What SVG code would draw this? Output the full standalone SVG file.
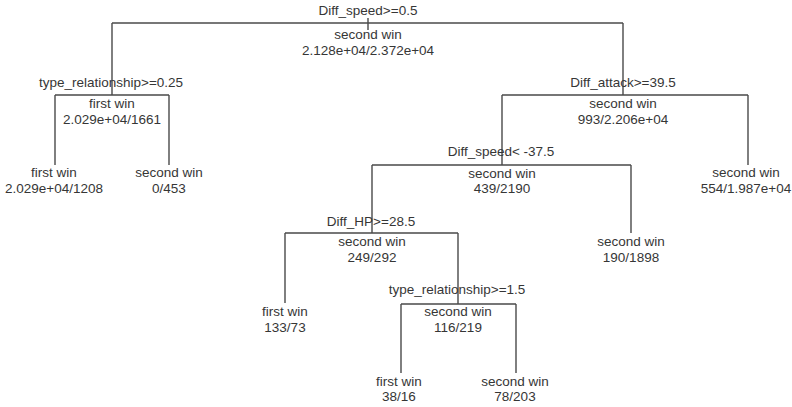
<svg xmlns="http://www.w3.org/2000/svg" width="792" height="407" viewBox="0 0 792 407">
<style>
text{font-family:"Liberation Sans",Arial,sans-serif;font-size:13.5px;fill:#363636;text-anchor:middle}
.e{stroke:#4a4a4a;stroke-width:1.4;fill:none}
</style>
<rect width="792" height="407" fill="#ffffff"/>
<g id="connectors" class="e">
<path d="M368 18V30"/>
<path d="M112 23H623"/>
<path d="M112 23V95M55 95H169M55 95V165M169 95V165"/>
<path d="M623 23V95M502 95H748M748 95V165"/>
<path d="M502 95V165M372 165H631M631 165V233"/>
<path d="M372 165V233M285 233H458M285 233V303"/>
<path d="M458 233V304M401 304H516M401 304V373M516 304V373"/>
</g>
<g id="n1"><text x="368" y="15">Diff_speed&gt;=0.5</text><text x="368" y="39">second win</text><text x="368" y="55">2.128e+04/2.372e+04</text></g>
<g id="n2"><text x="111" y="87">type_relationship&gt;=0.25</text><text x="112" y="108">first win</text><text x="112" y="124">2.029e+04/1661</text></g>
<g id="n4"><text x="54" y="177">first win</text><text x="54" y="193">2.029e+04/1208</text></g>
<g id="n5"><text x="169" y="177">second win</text><text x="169" y="193">0/453</text></g>
<g id="n3"><text x="623" y="87">Diff_attack&gt;=39.5</text><text x="623" y="108">second win</text><text x="623" y="124">993/2.206e+04</text></g>
<g id="n7"><text x="746" y="177">second win</text><text x="746" y="193">554/1.987e+04</text></g>
<g id="n6"><text x="501" y="156">Diff_speed&lt; -37.5</text><text x="502" y="178">second win</text><text x="502" y="193">439/2190</text></g>
<g id="n13"><text x="631" y="246">second win</text><text x="631" y="262">190/1898</text></g>
<g id="n12"><text x="371" y="226">Diff_HP&gt;=28.5</text><text x="372" y="246">second win</text><text x="372" y="262">249/292</text></g>
<g id="n24"><text x="285" y="316">first win</text><text x="285" y="332">133/73</text></g>
<g id="n25"><text x="457" y="294">type_relationship&gt;=1.5</text><text x="458" y="316">second win</text><text x="458" y="332">116/219</text></g>
<g id="n50"><text x="399" y="386">first win</text><text x="399" y="401">38/16</text></g>
<g id="n51"><text x="515" y="386">second win</text><text x="515" y="401">78/203</text></g>
</svg>
